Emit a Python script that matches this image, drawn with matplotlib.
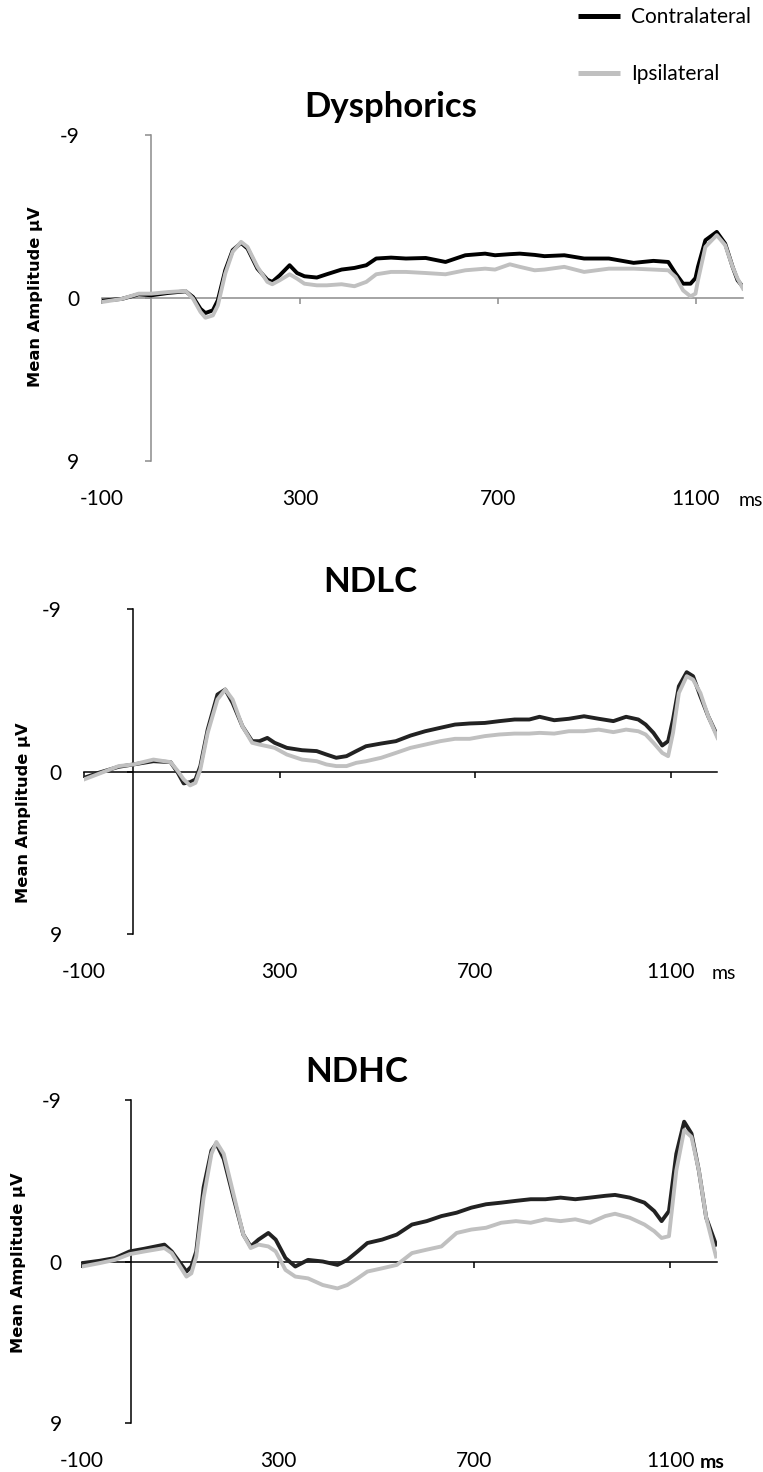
"""Contralateral vs ipsilateral ERP waveforms for three groups."""
import matplotlib
matplotlib.use("Agg")
import matplotlib.pyplot as plt
from matplotlib.lines import Line2D

plt.rcParams["axes.unicode_minus"] = False

OUT = "out.png"
W, H = 763, 1472

# ── Data (µV, negative up) ─────────────────────────────────────────────────────
t_dys = [-100, -60, -26, 0, 34, 69, 84, 99, 109, 124, 134, 149, 164, 181, 194,
         214, 234, 244, 259, 279, 294, 309, 334, 354, 384, 410, 434, 454, 484,
         514, 554, 594, 634, 674, 694, 724, 744, 774, 794, 834, 874, 924, 974,
         1014, 1044, 1059, 1074, 1089, 1099, 1104, 1119, 1142, 1159, 1174, 1184,
         1195]
contra_dys = [0.15, 0.05, -0.2, -0.15, -0.28, -0.37, -0.05, 0.6, 0.83, 0.68,
              0.13, -1.53, -2.64, -3.04, -2.73, -1.62, -1.01, -0.89, -1.25,
              -1.81, -1.38, -1.2, -1.13, -1.31, -1.57, -1.66, -1.81, -2.18,
              -2.23, -2.18, -2.21, -1.99, -2.36, -2.45, -2.36, -2.42, -2.45,
              -2.38, -2.31, -2.36, -2.18, -2.18, -1.94, -2.05, -1.99, -1.35,
              -0.79, -0.79, -1.1, -1.72, -3.19, -3.65, -3.0, -1.72, -0.98, -0.61]
ipsi_dys = [0.22, 0.05, -0.24, -0.24, -0.33, -0.39, 0.04, 0.77, 1.09, 0.96,
            0.41, -1.35, -2.55, -3.1, -2.82, -1.72, -0.89, -0.76, -0.98, -1.31,
            -1.07, -0.79, -0.7, -0.7, -0.76, -0.65, -0.89, -1.31, -1.44, -1.44,
            -1.38, -1.31, -1.53, -1.62, -1.57, -1.86, -1.72, -1.53, -1.57,
            -1.72, -1.44, -1.62, -1.62, -1.57, -1.53, -1.16, -0.42, -0.09,
            -0.24, -0.98, -2.82, -3.47, -2.92, -1.72, -1.07, -0.52]

t_ndlc = [-100, -70, -29, 1, 42, 77, 92, 104, 117, 128, 138, 153, 173, 189,
          204, 224, 244, 259, 275, 290, 315, 346, 376, 396, 416, 437, 457, 477,
          508, 538, 568, 598, 629, 659, 689, 720, 750, 781, 811, 832, 862, 892,
          923, 953, 983, 1009, 1034, 1049, 1065, 1083, 1095, 1105, 1117, 1133,
          1146, 1161, 1177, 1196]
contra_ndlc = [0.35, 0.07, -0.26, -0.39, -0.57, -0.52, 0.07, 0.66, 0.59, 0.44,
               -0.3, -2.32, -4.26, -4.54, -3.8, -2.51, -1.68, -1.68, -1.86,
               -1.59, -1.31, -1.18, -1.13, -0.94, -0.76, -0.85, -1.13, -1.4,
               -1.55, -1.68, -1.99, -2.23, -2.42, -2.6, -2.66, -2.69, -2.79,
               -2.88, -2.88, -3.03, -2.84, -2.92, -3.06, -2.92, -2.79, -3.03,
               -2.88, -2.6, -2.14, -1.44, -1.68, -2.88, -4.72, -5.5, -5.28,
               -4.17, -3.06, -1.96]
ipsi_ndlc = [0.44, 0.13, -0.3, -0.39, -0.66, -0.52, -0.02, 0.44, 0.77, 0.63,
             -0.11, -2.14, -3.99, -4.54, -3.99, -2.51, -1.59, -1.49, -1.4,
             -1.31, -0.94, -0.66, -0.57, -0.39, -0.3, -0.3, -0.48, -0.57,
             -0.76, -1.03, -1.31, -1.49, -1.68, -1.81, -1.81, -1.96, -2.05,
             -2.1, -2.1, -2.14, -2.1, -2.23, -2.23, -2.32, -2.18, -2.32, -2.23,
             -2.05, -1.59, -1.03, -0.85, -2.14, -4.35, -5.28, -5.09, -4.35,
             -3.06, -1.86]

t_ndhc = [-100, -64, -33, -3, 27, 68, 83, 98, 113, 123, 133, 148, 164, 174, 189,
          209, 229, 244, 260, 280, 295, 315, 335, 361, 391, 421, 441, 462, 482,
          512, 542, 573, 603, 633, 664, 694, 724, 755, 785, 815, 845, 876, 906,
          936, 967, 987, 1017, 1047, 1067, 1082, 1097, 1112, 1128, 1143, 1158,
          1173, 1193]
contra_ndhc = [0.09, -0.04, -0.19, -0.56, -0.71, -0.94, -0.56, 0.0, 0.56, 0.28,
               -0.56, -4.13, -6.19, -6.57, -5.72, -3.56, -1.5, -0.84, -1.22,
               -1.59, -1.22, -0.19, 0.28, -0.09, 0.0, 0.19, -0.09, -0.56, -1.03,
               -1.22, -1.5, -2.06, -2.25, -2.53, -2.72, -3.0, -3.19, -3.28,
               -3.38, -3.47, -3.47, -3.56, -3.47, -3.56, -3.66, -3.71, -3.56,
               -3.28, -2.81, -2.25, -2.81, -6.0, -7.79, -7.13, -5.07, -2.44,
               -0.94]
ipsi_ndhc = [0.28, 0.09, -0.09, -0.41, -0.56, -0.75, -0.47, 0.19, 0.84, 0.66,
             -0.28, -3.56, -6.0, -6.66, -6.0, -3.75, -1.5, -0.75, -0.94, -0.84,
             -0.56, 0.47, 0.84, 0.94, 1.31, 1.5, 1.31, 0.94, 0.56, 0.38, 0.19,
             -0.47, -0.66, -0.84, -1.59, -1.78, -1.88, -2.16, -2.25, -2.16,
             -2.35, -2.25, -2.35, -2.16, -2.53, -2.66, -2.44, -2.06, -1.69,
             -1.31, -1.41, -5.07, -7.32, -6.94, -5.07, -2.44, -0.28]

titles = ["Dysphorics", "NDLC", "NDHC"]
x_ticks = [-100, 300, 700, 1100]
y_ticks = [-9, 0, 9]
XLIM = (-100, 1195)
YLIM = (9, -9)

# ── Layout (pixel boxes) ───────────────────────────────────────────────────────
panels = [
    dict(t=t_dys, c=contra_dys, i=ipsi_dys, box=(102, 135, 743, 461),
         axcol="#8c8c8c", ccol="#000000", xpad=20.5, ypad=16.5,
         title_xy=(391, 117), ylab_xy=(36, 297), ms_x=739, ms_bold=False),
    dict(t=t_ndlc, c=contra_ndlc, i=ipsi_ndlc, box=(84, 609, 717, 934),
         axcol="#000000", ccol="#222222", xpad=20, ypad=16,
         title_xy=(370, 592), ylab_xy=(24, 813), ms_x=712, ms_bold=False),
    dict(t=t_ndhc, c=contra_ndhc, i=ipsi_ndhc, box=(82, 1100, 717, 1423),
         axcol="#000000", ccol="#222222", xpad=20, ypad=14.5,
         title_xy=(357, 1082), ylab_xy=(19, 1263), ms_x=700, ms_bold=True),
]

GRAY = "#c0c0c0"
TICK_FONT = dict(family="Lato", size=15)

fig = plt.figure(figsize=(W / 100, H / 100), dpi=100)
fig.patch.set_facecolor("white")


def fx(px):
    return px / W


def fy(py):
    return 1 - py / H


for p, title in zip(panels, titles):
    l, t, r, b = p["box"]
    ax = fig.add_axes([fx(l), fy(b), (r - l) / W, (b - t) / H])
    ax.set_xlim(*XLIM)
    ax.set_ylim(*YLIM)
    ax.set_facecolor("none")

    ax.plot(p["t"], p["c"], color=p["ccol"], lw=2.8, solid_joinstyle="round",
            zorder=3)
    ax.plot(p["t"], p["i"], color=GRAY, lw=2.8, solid_joinstyle="round",
            zorder=4)

    # axes cross at (0 ms, 0 µV)
    for s in ("top", "right"):
        ax.spines[s].set_visible(False)
    ax.spines["left"].set_position(("data", 0))
    ax.spines["bottom"].set_position(("data", 0))
    for s in ("left", "bottom"):
        ax.spines[s].set_color(p["axcol"])
        ax.spines[s].set_linewidth(1.1)
        ax.spines[s].set_zorder(2)
    ax.set_xticks(x_ticks)
    ax.set_yticks(y_ticks)
    ax.set_xticklabels([])
    ax.set_yticklabels([])
    ax.tick_params(direction="out", length=4.5, width=1.1, color=p["axcol"])

    # tick labels sit at the low end of each axis
    secx = ax.secondary_xaxis("bottom")
    secx.spines["bottom"].set_visible(False)
    secx.set_xticks(x_ticks)
    secx.tick_params(length=0, pad=p["xpad"])
    for lab in secx.get_xticklabels():
        lab.set_fontfamily(TICK_FONT["family"])
        lab.set_fontsize(TICK_FONT["size"])
    secy = ax.secondary_yaxis("left")
    secy.spines["left"].set_visible(False)
    secy.set_yticks(y_ticks)
    secy.tick_params(length=0, pad=p["ypad"])
    for lab in secy.get_yticklabels():
        lab.set_fontfamily(TICK_FONT["family"])
        lab.set_fontsize(TICK_FONT["size"])

    # "ms" shares the baseline of the x tick labels
    ms_top = b + p["xpad"] * 100 / 72 + 3
    fig.text(fx(p["ms_x"]), fy(ms_top), "ms", ha="left", va="top",
             fontweight="bold" if p["ms_bold"] else "normal",
             family="Lato", size=14)

    tx, ty = p["title_xy"]
    fig.text(fx(tx), fy(ty), title, ha="center", va="baseline",
             family="Lato", fontsize=25, fontweight="bold")

    lx, ly = p["ylab_xy"]
    fig.text(fx(lx), fy(ly), "Mean Amplitude µV", rotation=90, ha="center",
             va="center", family="DejaVu Sans", fontsize=11.7,
             fontweight="bold")

# ── Legend ─────────────────────────────────────────────────────────────────────
handles = [Line2D([], [], color="#000000", lw=3.6, solid_capstyle="butt"),
           Line2D([], [], color=GRAY, lw=3.6, solid_capstyle="butt")]
fig.legend(handles, ["Contralateral", "Ipsilateral"], loc="upper left",
           bbox_to_anchor=(fx(578), fy(7)), frameon=False, borderpad=0,
           borderaxespad=0, handlelength=2.0, handletextpad=0.55,
           labelspacing=1.8, prop=dict(family="Lato", size=15))

fig.savefig(OUT, dpi=100, facecolor="white")
print(f"Saved -> {OUT}")
